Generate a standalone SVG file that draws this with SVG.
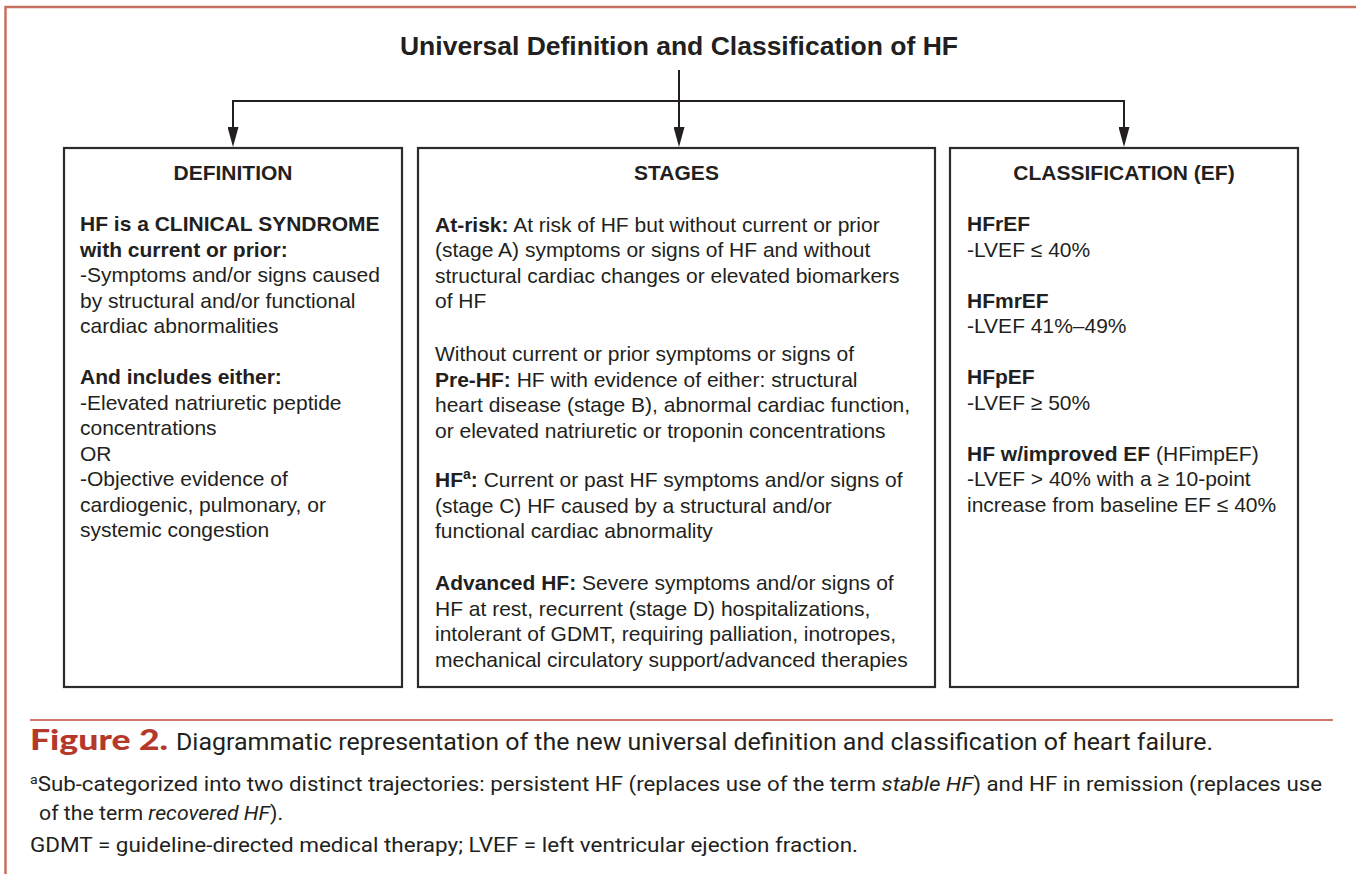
<svg xmlns="http://www.w3.org/2000/svg" width="1356" height="874" viewBox="0 0 1356 874">
<style>
.t{font-family:"Liberation Sans",Arial,sans-serif;font-size:21px;fill:#231f20}
.b{font-weight:bold}
.h{font-family:"Liberation Sans",Arial,sans-serif;font-size:21px;font-weight:bold;fill:#231f20;text-anchor:middle}
.box{fill:#fff;stroke:#2b2b2b;stroke-width:2.2}
.conn{stroke:#231f20;stroke-width:2;fill:none}
.cap{font-family:Roboto,"Liberation Sans",sans-serif;fill:#231f20}
</style>
<defs>
<marker id="arr" viewBox="0 0 20 11" refX="13" refY="5.5" markerWidth="20" markerHeight="11" markerUnits="userSpaceOnUse" orient="auto">
<path d="M0,0 L20,5.5 L0,11 z" fill="#231f20"/>
</marker>
</defs>
<rect width="1356" height="874" fill="#fff"/>
<path d="M1356,7 H5.5 V874" fill="none" stroke="#c8705f" stroke-width="2.5"/>

<g id="title">
<text x="679" y="55" text-anchor="middle" font-family="Liberation Sans,Arial,sans-serif" font-size="26.5" font-weight="bold" fill="#231f20">Universal Definition and Classification of HF</text>
</g>

<g id="connectors">
<line class="conn" x1="679" y1="70" x2="679" y2="140" marker-end="url(#arr)"/>
<line class="conn" x1="232" y1="101" x2="1125" y2="101"/>
<line class="conn" x1="233" y1="100" x2="233" y2="140" marker-end="url(#arr)"/>
<line class="conn" x1="1124" y1="100" x2="1124" y2="140" marker-end="url(#arr)"/>
</g>

<g id="definition">
<rect class="box" x="64" y="148" width="338" height="539"/>
<text class="h" x="233" y="180">DEFINITION</text>
<text class="t b" x="80" y="231">HF is a CLINICAL SYNDROME</text>
<text class="t b" x="80" y="256.5">with current or prior:</text>
<text class="t" x="80" y="282">-Symptoms and/or signs caused</text>
<text class="t" x="80" y="307.5">by structural and/or functional</text>
<text class="t" x="80" y="333">cardiac abnormalities</text>
<text class="t b" x="80" y="384">And includes either:</text>
<text class="t" x="80" y="409.5">-Elevated natriuretic peptide</text>
<text class="t" x="80" y="435">concentrations</text>
<text class="t" x="80" y="460.5">OR</text>
<text class="t" x="80" y="486">-Objective evidence of</text>
<text class="t" x="80" y="511.5">cardiogenic, pulmonary, or</text>
<text class="t" x="80" y="537">systemic congestion</text>
</g>

<g id="stages">
<rect class="box" x="418" y="148" width="517" height="539"/>
<text class="h" x="676.5" y="180">STAGES</text>
<text class="t" x="435" y="231.5"><tspan class="b">At-risk:</tspan> At risk of HF but without current or prior</text>
<text class="t" x="435" y="257">(stage A) symptoms or signs of HF and without</text>
<text class="t" x="435" y="282.5">structural cardiac changes or elevated biomarkers</text>
<text class="t" x="435" y="308">of HF</text>
<text class="t" x="435" y="361">Without current or prior symptoms or signs of</text>
<text class="t" x="435" y="386.5"><tspan class="b">Pre-HF:</tspan> HF with evidence of either: structural</text>
<text class="t" x="435" y="412">heart disease (stage B), abnormal cardiac function,</text>
<text class="t" x="435" y="437.5">or elevated natriuretic or troponin concentrations</text>
<text class="t" x="435" y="487"><tspan class="b">HF</tspan><tspan class="b" font-size="14" dy="-8">a</tspan><tspan class="b" dy="8">:</tspan> Current or past HF symptoms and/or signs of</text>
<text class="t" x="435" y="512.5">(stage C) HF caused by a structural and/or</text>
<text class="t" x="435" y="538">functional cardiac abnormality</text>
<text class="t" x="435" y="590"><tspan class="b">Advanced HF:</tspan> Severe symptoms and/or signs of</text>
<text class="t" x="435" y="615.5">HF at rest, recurrent (stage D) hospitalizations,</text>
<text class="t" x="435" y="641">intolerant of GDMT, requiring palliation, inotropes,</text>
<text class="t" x="435" y="666.5">mechanical circulatory support/advanced therapies</text>
</g>

<g id="classification">
<rect class="box" x="950" y="148" width="348" height="539"/>
<text class="h" x="1124" y="180">CLASSIFICATION (EF)</text>
<text class="t b" x="967" y="231">HFrEF</text>
<text class="t" x="967" y="256.5">-LVEF ≤ 40%</text>
<text class="t b" x="967" y="307.5">HFmrEF</text>
<text class="t" x="967" y="333">-LVEF 41%–49%</text>
<text class="t b" x="967" y="384">HFpEF</text>
<text class="t" x="967" y="409.5">-LVEF ≥ 50%</text>
<text class="t" x="967" y="460.5"><tspan class="b">HF w/improved EF</tspan> (HFimpEF)</text>
<text class="t" x="967" y="486">-LVEF &gt; 40% with a ≥ 10-point</text>
<text class="t" x="967" y="511.5">increase from baseline EF ≤ 40%</text>
</g>

<g id="caption">
<line x1="30" y1="720" x2="1333" y2="720" stroke="#cf7a6e" stroke-width="2"/>
<text x="30" y="750" font-family="Lato,'Open Sans',sans-serif" font-weight="900" font-size="29" fill="#b5392a" textLength="138" lengthAdjust="spacingAndGlyphs">Figure 2.</text>
<text class="cap" x="176" y="750" font-size="23.5" textLength="1037" lengthAdjust="spacingAndGlyphs">Diagrammatic representation of the new universal definition and classification of heart failure.</text>
<text class="cap" x="30" y="790.5" font-size="20.5" textLength="1292" lengthAdjust="spacingAndGlyphs"><tspan font-size="13" dy="-7">a</tspan><tspan dy="7">Sub-categorized into two distinct trajectories: persistent HF (replaces use of the term </tspan><tspan font-style="italic">stable HF</tspan>) and HF in remission (replaces use</text>
<text class="cap" x="39" y="820" font-size="20.5" textLength="244" lengthAdjust="spacingAndGlyphs">of the term <tspan font-style="italic">recovered HF</tspan>).</text>
<text class="cap" x="30" y="851.5" font-size="20.5" textLength="828" lengthAdjust="spacingAndGlyphs">GDMT = guideline-directed medical therapy; LVEF = left ventricular ejection fraction.</text>
</g>
</svg>
